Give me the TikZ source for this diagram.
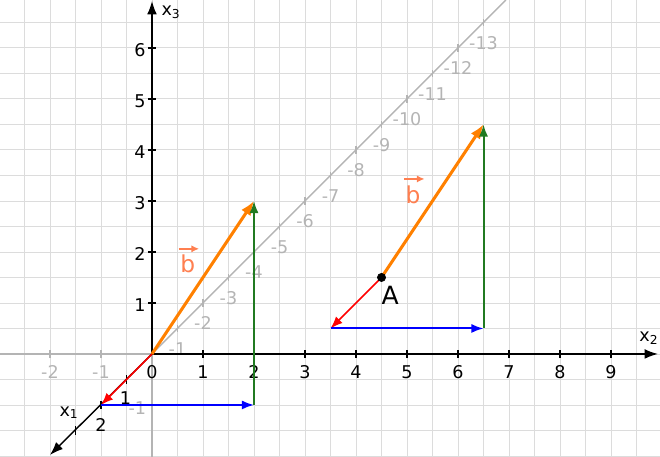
\documentclass[tikz,border=0pt]{standalone}
\usepackage{fontspec}
\setmainfont{DejaVu Sans}
\usetikzlibrary{arrows.meta}
\definecolor{gridgrey}{HTML}{DCDCDC}
\definecolor{axisgrey}{HTML}{B4B4B4}
\definecolor{vecorange}{HTML}{FF8000}
\definecolor{labelorange}{HTML}{FF7F50}
\definecolor{vecgreen}{HTML}{217A21}
\tikzset{
  gridline/.style={gridgrey, line width=0.5pt},
  axisline/.style={black, line width=0.8pt},
  greyline/.style={axisgrey, line width=0.8pt},
  ticklabel/.style={font=\fontsize{9.8}{11}\selectfont, inner sep=0pt},
  axistip/.style={-{Latex[length=2.6mm,width=1.9mm]}},
  vecarrow/.style={-{Latex[length=2.4mm,width=1.8mm]}},
  veclabel/.style={labelorange, font=\fontsize{13}{14}\selectfont},
}
\begin{document}
\begin{tikzpicture}
\useasboundingbox (-2.98,-2.02) rectangle (9.96,6.94);
\draw[gridline] (-2.98,-2.02) grid[step=0.5] (9.96,6.94);

% points
\coordinate (O) at (0,0);
\coordinate (X1tip) at (-2.0,-1.98);
\coordinate (X2tip) at (9.92,0);
\coordinate (X3tip) at (0,6.92);
\coordinate (D) at (6.94,6.94);
\coordinate (P1) at (-1,-1);
\coordinate (P2) at (2,-1);
\coordinate (B1) at (2,3);
\coordinate (A) at (4.5,1.5);
\coordinate (Q1) at (3.5,0.5);
\coordinate (Q2) at (6.5,0.5);
\coordinate (B2) at (6.5,4.5);

% grey parts
\draw[greyline] (O) -- (D);
\foreach \n in {1,...,13}{
  \draw[greyline] (\n*0.5,\n*0.5-0.07) -- (\n*0.5,\n*0.5+0.07);
  \node[ticklabel, axisgrey] at (\n*0.5,\n*0.5-0.4) {-\n};
}
\draw[greyline] (-2.98,0) -- (O);
\draw[greyline] (0,-2.02) -- (O);
\foreach \n in {1,2}{
  \draw[greyline] (-\n,-0.08) -- (-\n,0.08);
  \node[ticklabel, axisgrey] at (-\n,-0.36) {-\n};
}
\draw[greyline] (-0.08,-1) -- (0.08,-1);
\node[ticklabel, axisgrey, anchor=east] at (-0.11,-1.06) {-1};

% axes
\draw[axisline, axistip] (O) -- (X2tip);
\draw[axisline, axistip] (O) -- (X3tip);
\draw[axisline, axistip] (O) -- (X1tip);
\foreach \n in {1,...,9}{
  \draw[axisline] (\n,-0.08) -- (\n,0.08);
  \node[ticklabel] at (\n,-0.36) {\n};
}
\node[ticklabel] at (0,-0.36) {0};
\foreach \n in {1,...,6}{
  \draw[axisline] (-0.08,\n) -- (0.08,\n);
  \node[ticklabel, anchor=east] at (-0.12,\n-0.04) {\n};
}
\foreach \n in {1,2,3}
  \draw[axisline] (-\n*0.5,-\n*0.5-0.08) -- (-\n*0.5,-\n*0.5+0.08);
\node[ticklabel] at (-0.52,-0.86) {1};
\node[ticklabel] at (-1,-1.4) {2};
\node[ticklabel, anchor=west] at (9.55,0.3) {x\textsubscript{2}};
\node[ticklabel, anchor=west] at (0.18,6.7) {x\textsubscript{3}};
\node[ticklabel, anchor=west] at (-1.82,-1.15) {x\textsubscript{1}};

% vector b at the origin
\draw[vecarrow, red, line width=0.85pt] (O) -- (P1);
\draw[vecarrow, blue, line width=1.1pt] (P1) -- (P2);
\draw[-{Latex[length=2.8mm,width=2.2mm]}, vecorange, line width=1.7pt] (O) -- (B1);
\draw[vecarrow, vecgreen, line width=1.1pt] (P2) -- (B1);
\node[veclabel] (bvec1) at (0.70,1.76) {b};
\draw[labelorange, line width=1pt, -{Latex[length=1.5mm,width=1.4mm]}] ([xshift=-5pt,yshift=0pt]bvec1.north) -- ++(0.4,0);

% vector b at A
\draw[vecarrow, red, line width=0.85pt] (A) -- (Q1);
\draw[vecarrow, blue, line width=1.1pt] (Q1) -- (Q2);
\draw[-{Latex[length=2.8mm,width=2.2mm]}, vecorange, line width=1.7pt] (A) -- (B2);
\draw[vecarrow, vecgreen, line width=1.1pt] (Q2) -- (B2);
\node[veclabel] (bvec2) at (5.12,3.13) {b};
\draw[labelorange, line width=1pt, -{Latex[length=1.5mm,width=1.4mm]}] ([xshift=-5pt,yshift=0pt]bvec2.north) -- ++(0.4,0);
\filldraw (A) circle (0.08);
\node[font=\fontsize{14}{15}\selectfont] (Alabel) at (4.67,1.14) {A};
\end{tikzpicture}
\end{document}
